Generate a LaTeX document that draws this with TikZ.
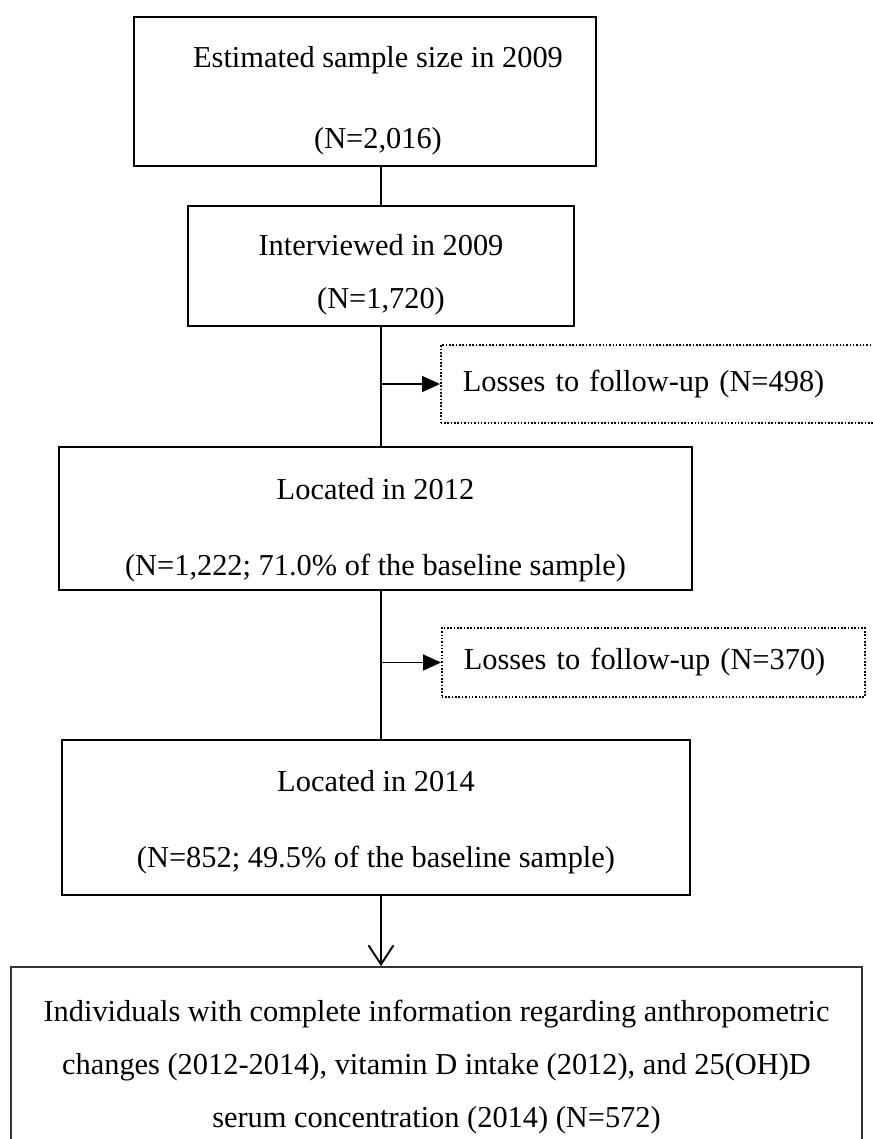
\documentclass[tikz,border=0pt]{standalone}
\usepackage{fontspec}
\setmainfont{Liberation Serif}
\usetikzlibrary{arrows.meta, positioning}
\newcommand{\toppad}[1]{\rule{0pt}{#1}}

\begin{document}
\begin{tikzpicture}[x=0.02cm, y=-0.02cm,
    stagebox/.style={rectangle,draw=black,line width=1.1pt,align=center,
        font=\fontsize{17.3}{20}\selectfont,inner sep=0pt},
    lossbox/.style={rectangle,draw=black,densely dotted,line width=0.9pt,anchor=west,
        align=left,font=\fontsize{17.3}{20}\selectfont,inner ysep=0pt,inner xsep=0.44cm},
    flow/.style={line width=1.1pt},
    branch/.style={line width=1.1pt,-{Triangle[length=0.36cm,width=0.32cm]}}]
    \useasboundingbox (0,0) rectangle (872,1139);

    % Stufen der Kohorte
    \node[stagebox,minimum width=9.24cm,minimum height=2.98cm] (est) at (365,91.5)
        {\toppad{22pt}\hspace*{0.52cm}Estimated sample size in 2009\\[26pt]\hspace*{0.52cm}(N=2,016)};
    \node[stagebox,minimum width=7.72cm,minimum height=2.40cm] (int) at (381,266)
        {\toppad{22pt}Interviewed in 2009\\[10.6pt](N=1,720)};
    \node[stagebox,minimum width=12.66cm,minimum height=2.86cm] (loc12) at (375.5,518.5)
        {\toppad{25.4pt}Located in 2012\\[23.7pt](N=1,222; 71.0\% of the baseline sample)};
    \node[stagebox,minimum width=12.56cm,minimum height=3.10cm] (loc14) at (376,817.5)
        {\toppad{17.5pt}Located in 2014\\[23pt](N=852; 49.5\% of the baseline sample)};
    \node[stagebox,draw=black!80,minimum width=17.02cm,minimum height=4.0cm] (final) at (436.5,1067)
        {Individuals with complete information regarding anthropometric\\[10.3pt]changes (2012-2014), vitamin D intake (2012), and 25(OH)D\\[10.3pt]serum concentration (2014) (N=572)};

    % Verluste
    \node[lossbox,text width=8.02cm,minimum height=1.56cm] (loss1) at (440,384)
        {Losses to follow-up (N=498)};
    \node[lossbox,text width=7.58cm,minimum height=1.38cm] (loss2) at (441,662.5)
        {Losses to follow-up (N=370)};

    % Verbindungen
    \draw[flow] (est.south -| int.north) -- (int.north);
    \draw[flow] (int.south) -- (int.south |- loc12.north);
    \draw[flow] (int.south |- loc12.south) -- (int.south |- loc14.north);
    \draw[branch] (int.south |- loss1.west) -- (loss1.west);
    \draw[branch] (int.south |- loss2.west) -- (loss2.west);
    \draw[flow,-{Straight Barb[length=0.38cm,width=0.5cm]}] (int.south |- loc14.south) -- (int.south |- final.north);
\end{tikzpicture}
\end{document}
